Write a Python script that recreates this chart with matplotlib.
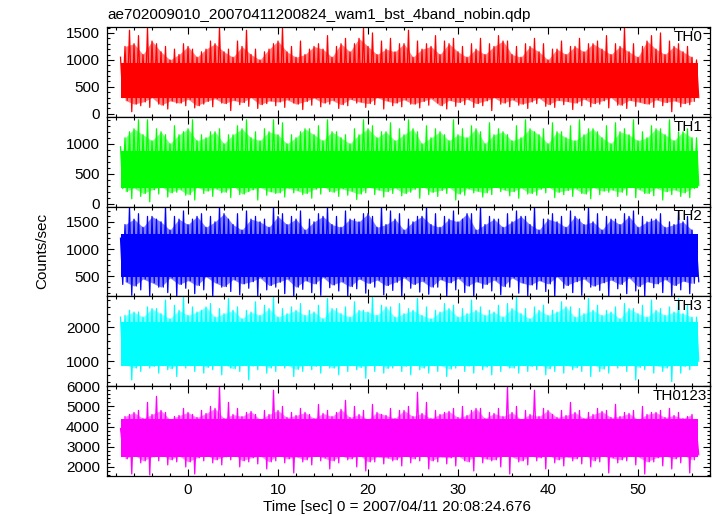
import numpy as np
import matplotlib
matplotlib.use("Agg")
import matplotlib.pyplot as plt
from matplotlib.ticker import MultipleLocator

plt.rcParams['font.family'] = ['Liberation Sans', 'DejaVu Sans']

title = "ae702009010_20070411200824_wam1_bst_4band_nobin.qdp"
xlabel = "Time [sec] 0 = 2007/04/11 20:08:24.676"
ylabel = "Counts/sec"

# half-second samples: "a" lists sit on t = -7.5, -6.5, ... 56.5,
# "b" lists on t = -7.0, -6.0, ... 56.0
t_a = np.arange(-7.5, 57.0, 1.0)
t_b = np.arange(-7.0, 56.5, 1.0)

names = ["TH0", "TH1", "TH2", "TH3", "TH0123"]
colors = ["#ff0000", "#00ff00", "#0000ff", "#00ffff", "#ff00ff"]
ylims = [(-55, 1610), (-50, 1450), (130, 1780), (265, 2910), (1550, 6000)]
ymajor = [500, 500, 500, 1000, 1000]
yminor = [100, 100, 100, 200, 200]

# local maxima / minima
th0_hi_a = [1050, 1550, 1450, 1600, 1300, 1250, 1200, 1300, 1200, 1150,
            1350, 1600, 1200, 1350, 1550, 1200, 1150, 1300, 1600, 1250,
            1350, 1200, 1300, 1450, 1250, 1400, 1300, 1600, 1500, 1350,
            1400, 1300, 1550, 1350, 1300, 1450, 1350, 1400, 1250, 1300,
            1400, 1300, 1450, 1350, 1250, 1300, 1400, 1300, 1200, 1350,
            1250, 1400, 1300, 1350, 1450, 1300, 1600, 1300, 1250, 1450,
            1500, 1350, 1300, 1250, 1000]
th0_hi_b = [1250, 1300, 1100, 1350, 1150, 1000, 1100, 1250, 1050, 1200,
            1300, 1150, 1050, 1250, 1100, 1000, 1200, 1350, 1150, 1050,
            1100, 1250, 1200, 1050, 1300, 1150, 1400, 1250, 1100, 1200,
            1150, 1300, 1050, 1200, 1250, 1100, 1300, 1150, 1050, 1200,
            1100, 1250, 1350, 1100, 1050, 1250, 1150, 1000, 1200, 1100,
            1250, 1150, 1300, 1200, 1100, 1250, 1150, 1050, 1350, 1200,
            1100, 1250, 1150, 1050]
th0_lo_a = [300, 40, 150, 120, 180, 90, 200, 150, 110, 180,
            130, 200, 60, 170, 140, 100, 190, 150, 120, 200,
            80, 160, 130, 180, 100, 150, 200, 120, 170, 90,
            150, 130, 180, 110, 160, 200, 90, 140, 170, 120,
            150, 60, 180, 130, 160, 100, 190, 140, 120, 170,
            80, 150, 130, 180, 110, 160, 100, 140, 190, 120,
            150, 40, 130, 170, 300]
th0_lo_b = [250, 180, 220, 300, 160, 240, 200, 270, 150, 230,
            280, 190, 250, 210, 300, 170, 240, 220, 260, 180,
            230, 290, 200, 250, 170, 270, 220, 190, 300, 240,
            200, 260, 180, 230, 280, 150, 250, 210, 270, 190,
            240, 300, 200, 260, 180, 220, 290, 170, 250, 230,
            200, 270, 190, 240, 300, 160, 250, 220, 180, 260,
            210, 240, 190, 230]

th1_hi_a = [950, 1200, 1400, 1400, 1250, 1150, 1300, 1200, 1400, 1150,
            1200, 1250, 1150, 1300, 1400, 1200, 1250, 1400, 1350, 1150,
            1200, 1250, 1300, 1400, 1200, 1150, 1250, 1400, 1300, 1200,
            1350, 1250, 1400, 1200, 1300, 1250, 1150, 1400, 1250, 1300,
            1200, 1350, 1250, 1150, 1300, 1400, 1200, 1250, 1350, 1200,
            1300, 1400, 1250, 1200, 1300, 1350, 1250, 1400, 1200, 1300,
            1250, 1400, 1200, 1250, 1100]
th1_hi_b = [1100, 1250, 1150, 1050, 1200, 1000, 1150, 1250, 1050, 1100,
            1200, 1000, 1150, 1250, 1100, 1050, 1200, 1150, 1000, 1100,
            1250, 1150, 1050, 1200, 1100, 1000, 1150, 1250, 1100, 1200,
            1050, 1150, 1250, 1000, 1100, 1200, 1050, 1150, 1100, 1250,
            1000, 1150, 1200, 1050, 1100, 1250, 1150, 1000, 1200, 1100,
            1050, 1150, 1250, 1100, 1000, 1200, 1150, 1050, 1100, 1250,
            1150, 1050, 1200, 1100]
th1_lo_a = [250, 80, 120, 30, 160, 110, 190, 140, 60, 170,
            120, 180, 100, 150, 200, 60, 140, 170, 110, 180,
            150, 90, 160, 200, 120, 140, 70, 180, 150, 110,
            170, 130, 190, 90, 150, 120, 170, 60, 140, 180,
            110, 150, 200, 130, 90, 160, 140, 180, 100, 150,
            120, 170, 80, 150, 190, 120, 140, 100, 170, 130,
            60, 150, 120, 100, 300]
th1_lo_b = [200, 260, 170, 230, 290, 180, 240, 150, 270, 210,
            250, 190, 300, 160, 230, 270, 200, 180, 260, 220,
            170, 240, 290, 190, 250, 210, 160, 280, 230, 200,
            260, 170, 240, 300, 190, 220, 270, 160, 250, 210,
            180, 290, 230, 200, 260, 170, 240, 280, 190, 220,
            250, 160, 270, 210, 230, 190, 300, 240, 170, 260,
            200, 230, 180, 250]

th2_hi_a = [1200, 1780, 1650, 1600, 1550, 1780, 1600, 1700, 1550, 1650,
            1600, 1780, 1550, 1650, 1700, 1600, 1550, 1780, 1650, 1600,
            1700, 1550, 1650, 1780, 1600, 1700, 1550, 1650, 1600, 1780,
            1700, 1650, 1550, 1600, 1780, 1650, 1600, 1700, 1550, 1650,
            1780, 1600, 1550, 1650, 1700, 1600, 1780, 1550, 1650, 1600,
            1700, 1550, 1780, 1650, 1600, 1550, 1650, 1700, 1600, 1550,
            1650, 1500, 1700, 1600, 1050]
th2_hi_b = [1450, 1550, 1400, 1600, 1500, 1350, 1550, 1450, 1600, 1400,
            1500, 1650, 1450, 1350, 1550, 1500, 1400, 1600, 1450, 1550,
            1350, 1500, 1600, 1450, 1400, 1550, 1500, 1650, 1400, 1450,
            1550, 1350, 1500, 1600, 1450, 1400, 1550, 1500, 1650, 1350,
            1450, 1550, 1400, 1500, 1600, 1450, 1350, 1550, 1500, 1400,
            1600, 1450, 1500, 1350, 1550, 1450, 1600, 1400, 1500, 1550,
            1400, 1450, 1500, 1350]
th2_lo_a = [350, 150, 250, 130, 300, 200, 140, 280, 180, 250,
            130, 300, 220, 160, 280, 140, 250, 300, 180, 130,
            260, 200, 150, 290, 230, 130, 270, 190, 300, 160,
            240, 130, 280, 210, 170, 300, 140, 250, 200, 130,
            280, 230, 160, 300, 190, 140, 260, 220, 130, 280,
            200, 150, 300, 240, 130, 270, 180, 230, 140, 290,
            200, 130, 250, 180, 400]
th2_lo_b = [400, 320, 450, 380, 300, 470, 350, 420, 330, 490,
            380, 310, 440, 360, 400, 470, 330, 390, 450, 300,
            420, 360, 480, 340, 400, 310, 450, 370, 430, 330,
            390, 470, 350, 410, 300, 440, 380, 460, 320, 400,
            350, 430, 310, 470, 380, 340, 420, 360, 490, 330,
            400, 450, 320, 380, 430, 350, 470, 310, 400, 360,
            440, 330, 410, 370]

th3_hi_a = [2300, 2500, 2450, 2600, 2550, 2800, 2650, 2900, 2600, 2500,
            2700, 2550, 2850, 2600, 2500, 2750, 2650, 2900, 2550, 2600,
            2700, 2500, 2650, 2850, 2550, 2600, 2750, 2500, 2900, 2650,
            2600, 2700, 2550, 2850, 2600, 2500, 2700, 2650, 2550, 2800,
            2600, 2500, 2650, 2700, 2900, 2550, 2600, 2650, 2500, 2750,
            2600, 2550, 2850, 2650, 2500, 2600, 2700, 2550, 2650, 2800,
            2550, 2600, 2850, 2650, 2300]
th3_hi_b = [2350, 2450, 2300, 2550, 2400, 2250, 2500, 2350, 2450, 2600,
            2300, 2400, 2500, 2250, 2450, 2350, 2550, 2300, 2400, 2500,
            2350, 2450, 2250, 2550, 2400, 2300, 2500, 2450, 2350, 2600,
            2300, 2400, 2500, 2350, 2250, 2450, 2550, 2300, 2400, 2500,
            2350, 2450, 2300, 2550, 2400, 2250, 2500, 2350, 2450, 2600,
            2300, 2400, 2500, 2350, 2450, 2250, 2550, 2400, 2300, 2500,
            2350, 2450, 2400, 2300]
th3_lo_a = [1000, 450, 700, 800, 650, 750, 550, 800, 700, 650,
            750, 600, 800, 700, 450, 750, 650, 700, 800, 550,
            700, 750, 650, 800, 600, 700, 750, 500, 700, 650,
            800, 700, 600, 750, 650, 700, 550, 800, 700, 650,
            750, 600, 700, 800, 650, 700, 750, 600, 700, 650,
            750, 700, 550, 700, 650, 800, 700, 450, 750, 650,
            700, 400, 650, 750, 1000]
th3_lo_b = [900, 800, 950, 850, 1000, 780, 920, 870, 1050, 820,
            950, 900, 780, 1000, 860, 930, 800, 980, 880, 760,
            940, 850, 1000, 800, 900, 960, 820, 870, 1030, 790,
            910, 850, 980, 800, 940, 880, 770, 1000, 860, 920,
            830, 970, 890, 800, 1040, 850, 920, 780, 960, 880,
            810, 950, 900, 770, 1000, 860, 930, 820, 980, 870,
            800, 940, 850, 900]

th4_hi_a = [3900, 4600, 4800, 5200, 5500, 4700, 4500, 4900, 4600, 4800,
            5000, 6000, 5200, 4900, 4700, 4600, 4800, 5800, 5000, 4700,
            4900, 4600, 5100, 4800, 4700, 5300, 5000, 4800, 5100, 4600,
            4900, 4800, 5000, 5700, 5200, 4800, 4700, 4900, 5000, 4800,
            4900, 4700, 4900, 6000, 5000, 4800, 5800, 4900, 4600, 4800,
            5200, 4800, 4700, 4900, 4800, 5100, 4700, 4800, 5000, 4700,
            4800, 4900, 4700, 4500, 3800]
th4_hi_b = [4500, 4700, 4400, 4600, 4800, 4350, 4550, 4700, 4450, 4650,
            4900, 4400, 4600, 4500, 4750, 4350, 4600, 4800, 4450, 4550,
            4700, 4400, 4650, 4500, 4850, 4450, 4600, 4350, 4700, 4550,
            4400, 4800, 4500, 4650, 4400, 4600, 4750, 4450, 4550, 4900,
            4400, 4650, 4500, 4700, 4350, 4600, 4500, 4800, 4450, 4550,
            4700, 4400, 4600, 4750, 4450, 4500, 4650, 4350, 4600, 4700,
            4450, 4550, 4400, 4600]
th4_lo_a = [2900, 1650, 2200, 1600, 2300, 2100, 2250, 2000, 1650, 2300,
            2200, 2100, 2350, 2000, 2250, 2150, 1900, 2300, 2200, 1700,
            2250, 2100, 2300, 1900, 2200, 2350, 2000, 1800, 2250, 2150,
            2300, 2050, 2200, 2300, 1900, 2250, 2150, 2050, 2300, 1800,
            2200, 2300, 2000, 1650, 2250, 2100, 2300, 1900, 2200, 2050,
            2300, 2150, 2000, 2250, 1700, 2200, 2300, 2100, 1650, 2250,
            2050, 1900, 2200, 1700, 2600]
th4_lo_b = [2400, 2600, 2300, 2500, 2650, 2350, 2550, 2250, 2450, 2600,
            2350, 2500, 2700, 2300, 2450, 2550, 2250, 2600, 2400, 2500,
            2350, 2650, 2450, 2300, 2550, 2400, 2600, 2250, 2500, 2450,
            2350, 2600, 2400, 2700, 2300, 2500, 2450, 2550, 2250, 2600,
            2400, 2350, 2650, 2500, 2300, 2550, 2450, 2600, 2350, 2500,
            2400, 2650, 2300, 2550, 2450, 2350, 2600, 2500, 2250, 2450,
            2550, 2400, 2600, 2350]

# dense central band of each curve (lo, hi)
core_solid = [(300, 950), (260, 880), (480, 1280), (850, 2150), (2500, 4350)]

his = [(th0_hi_a, th0_hi_b), (th1_hi_a, th1_hi_b), (th2_hi_a, th2_hi_b),
       (th3_hi_a, th3_hi_b), (th4_hi_a, th4_hi_b)]
los = [(th0_lo_a, th0_lo_b), (th1_lo_a, th1_lo_b), (th2_lo_a, th2_lo_b),
       (th3_lo_a, th3_lo_b), (th4_lo_a, th4_lo_b)]


def merge(a, b):
    out = np.empty(len(a) + len(b))
    out[0::2] = a
    out[1::2] = b
    return out


t = merge(t_a, t_b)

fig = plt.figure(figsize=(7.17, 5.16), dpi=100)
left, width = 107 / 717, 603 / 717
top_px, h_px = 27, 89.8

for i in range(5):
    bottom = 1 - (top_px + (i + 1) * h_px) / 516
    ax = fig.add_axes([left, bottom, width, h_px / 516])
    c = colors[i]
    hi = merge(*his[i])
    lo = merge(*los[i])
    x = np.column_stack([t, t + 0.25]).ravel()
    y = np.column_stack([hi, lo]).ravel()
    span = [t[0], t[-1] + 0.2]
    # pale envelope of the moderate extremes
    ax.fill_between(t_b, los[i][1], his[i][1], color=c, alpha=0.5, lw=0)
    ax.fill_between(span, *core_solid[i], color=c, lw=0)
    ax.plot(x, y, color=c, lw=0.9)

    ax.set_xlim(-9.0, 58.0)
    ax.set_ylim(*ylims[i])
    ax.xaxis.set_major_locator(MultipleLocator(10))
    ax.xaxis.set_minor_locator(MultipleLocator(2))
    ax.yaxis.set_major_locator(MultipleLocator(ymajor[i]))
    ax.yaxis.set_minor_locator(MultipleLocator(yminor[i]))
    ax.tick_params(which='both', direction='in', top=True, right=True,
                   labelsize=11, width=0.8, pad=5)
    ax.tick_params(which='major', length=5)
    ax.tick_params(which='minor', length=2.5)
    for s in ax.spines.values():
        s.set_linewidth(0.9)
    if i < 4:
        ax.tick_params(labelbottom=False)
    xt = 0.995 if i == 4 else 0.988
    ax.text(xt, 0.89, names[i], transform=ax.transAxes, ha='right',
            va='center', fontsize=11)

fig.text(left, 1 - 15 / 516, title, ha='left', va='center', fontsize=11)
fig.text(397 / 717, 1 - 507 / 516, xlabel, ha='center', va='center', fontsize=11)
fig.text(42 / 717, 1 - 251 / 516, ylabel, ha='center', va='center',
         rotation=90, fontsize=11)

fig.savefig("out.png", dpi=100)
